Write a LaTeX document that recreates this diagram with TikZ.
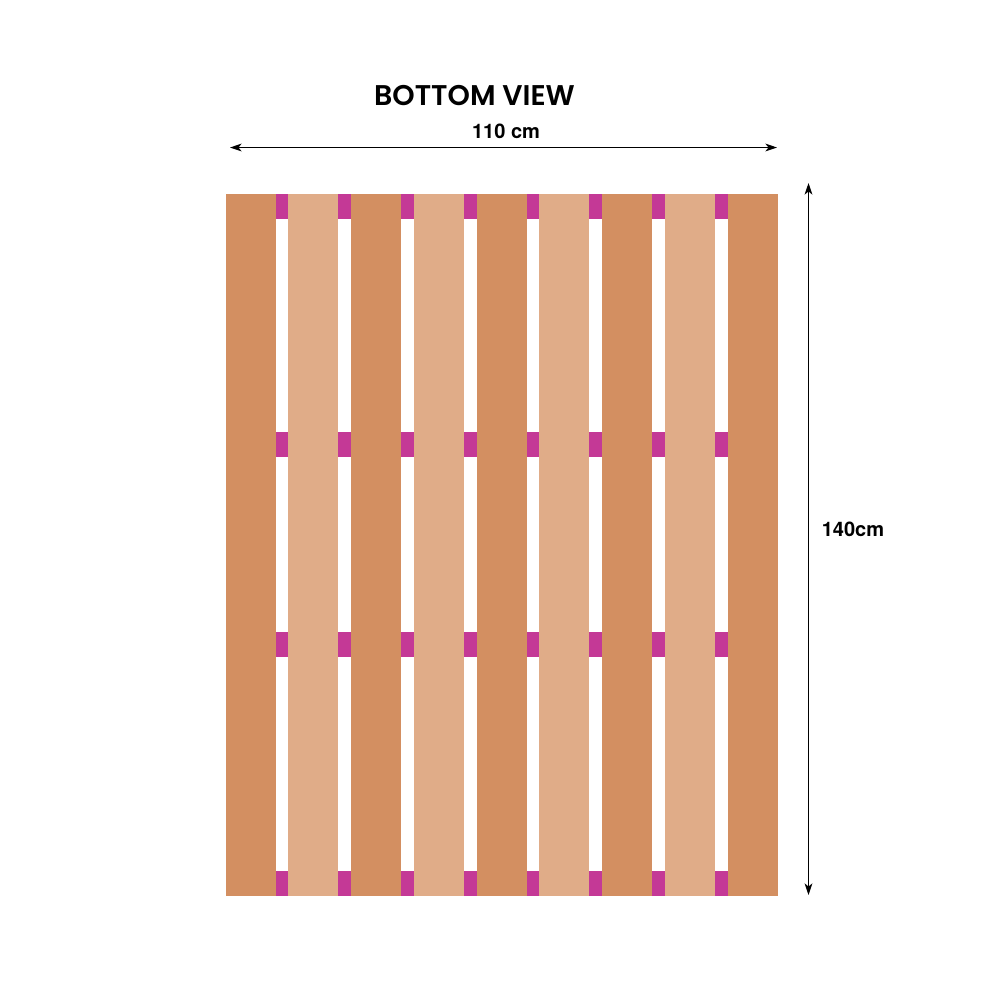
\documentclass[tikz,border=0pt]{standalone}
\usepackage{fontspec}
\setmainfont{TeX Gyre Heros}
\newfontfamily\titlefont{Poppins SemiBold}
\usetikzlibrary{arrows.meta}
\definecolor{plankdark}{HTML}{D38F61}
\definecolor{planklight}{HTML}{E0AC88}
\definecolor{stringer}{HTML}{C43996}
\tikzset{
  dimline/.style={draw=black, line width=0.4pt, {Stealth[length=3.3pt,width=2.2pt,inset=0.9pt]}-{Stealth[length=3.3pt,width=2.2pt,inset=0.9pt]}},
  dimtext/.style={font=\bfseries\fontsize{5.7pt}{7pt}\selectfont, text=black, inner sep=0pt},
}
\begin{document}
\begin{tikzpicture}[x=0.1mm, y=-0.1mm]
\useasboundingbox (0,0) rectangle (1000,1000);
% Querlatten
\foreach \ytop in {193.5,432,632,870.5}
  \fill[stringer] (225.5,\ytop) rectangle (777.5,\ytop+25);

% Bretter
\foreach \i in {0,2,4,6,8}
  \fill[plankdark] (225.5+62.75*\i,193.5) rectangle (275.5+62.75*\i,895.5);
\foreach \i in {1,3,5,7}
  \fill[planklight] (225.5+62.75*\i,193.5) rectangle (275.5+62.75*\i,895.5);

% Beschriftungen
\node[font=\titlefont\fontsize{8.1pt}{10pt}\selectfont, inner sep=0pt] (title) at (474.5,96) {BOTTOM VIEW};
\node[dimtext] (widthlabel) at (506,131) {110 cm};
\node[dimtext] (heightlabel) at (853,529) {140cm};

% Masse
\coordinate (wleft) at (230,147.5);
\coordinate (wright) at (777,147.5);
\coordinate (htop) at (808.5,183);
\coordinate (hbottom) at (808.5,895);
\draw[dimline] (wleft) -- (wright);
\draw[dimline] (htop) -- (hbottom);
\end{tikzpicture}
\end{document}
